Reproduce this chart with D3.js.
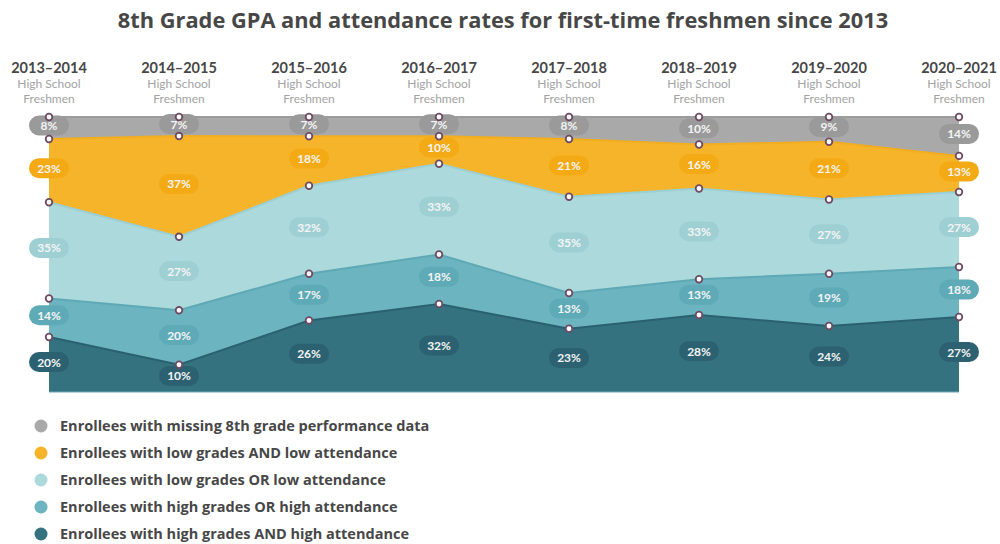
<!DOCTYPE html>
<html>
<head>
<meta charset="utf-8">
<script src="https://cdn.jsdelivr.net/npm/d3@7"></script>
<style>
  body { margin: 0; background: #fff; }
  svg text { font-family: Lato, "Open Sans", sans-serif; }
  svg text.wide { font-family: "Open Sans", Lato, sans-serif; }
</style>
</head>
<body>
<script>
// data (percent of first-time freshmen)
const years = ["2013–2014", "2014–2015", "2015–2016", "2016–2017", "2017–2018", "2018–2019", "2019–2020", "2020–2021"];
const missingData = [8, 7, 7, 7, 8, 10, 9, 14];
const lowAnd = [23, 37, 18, 10, 21, 16, 21, 13];
const lowOr = [35, 27, 32, 33, 35, 33, 27, 27];
const highOr = [14, 20, 17, 18, 13, 13, 19, 18];
const highAnd = [20, 10, 26, 32, 23, 28, 24, 27];

// bottom to top
const seriesKeys = ["highAnd", "highOr", "lowOr", "lowAnd", "missing"];
const seriesValues = { highAnd: highAnd, highOr: highOr, lowOr: lowOr, lowAnd: lowAnd, missing: missingData };
const legendLabels = {
  missing: "Enrollees with missing 8th grade performance data",
  lowAnd: "Enrollees with low grades AND low attendance",
  lowOr: "Enrollees with low grades OR low attendance",
  highOr: "Enrollees with high grades OR high attendance",
  highAnd: "Enrollees with high grades AND high attendance"
};
const legendOrder = ["missing", "lowAnd", "lowOr", "highOr", "highAnd"];

const fill = { missing: "#a9a9a9", lowAnd: "#f6b42a", lowOr: "#acd9db", highOr: "#6cb4bf", highAnd: "#347280" };
const pill = { missing: "#9a9a9a", lowAnd: "#f3aa14", lowOr: "#9ed0d3", highOr: "#5eaab6", highAnd: "#2b6170" };
const edge = { missing: "#9c9c9c", lowAnd: "#f2ad20", lowOr: "#9ccfd3", highOr: "#5ea9b5", highAnd: "#2a6170" };

const width = 1000, height = 544;

const svg = d3.select("body").append("svg")
  .attr("width", width)
  .attr("height", height);

const table = years.map((y, i) => {
  const row = { year: y };
  seriesKeys.forEach(k => row[k] = seriesValues[k][i]);
  return row;
});

const stack = d3.stack()
  .keys(seriesKeys)
  .offset(d3.stackOffsetExpand);
const layers = stack(table);

const x = d3.scalePoint()
  .domain(years)
  .range([49, 959]);

const y = d3.scaleLinear()
  .domain([0, 1])
  .range([392, 117]);

// title
svg.append("text")
  .attr("class", "wide")
  .attr("x", 503)
  .attr("y", 28)
  .attr("text-anchor", "middle")
  .attr("font-size", 21.8)
  .attr("font-weight", 700)
  .attr("fill", "#474747")
  .text("8th Grade GPA and attendance rates for first-time freshmen since 2013");

// column headers
const head = svg.append("g").selectAll("g")
  .data(years)
  .join("g")
  .attr("transform", d => `translate(${x(d)},0)`);

head.append("text")
  .attr("y", 73)
  .attr("text-anchor", "middle")
  .attr("font-size", 14.5)
  .attr("font-weight", 700)
  .attr("fill", "#474747")
  .text(d => d);

head.append("text")
  .attr("y", 88)
  .attr("text-anchor", "middle")
  .attr("font-size", 12)
  .attr("fill", "#a3a3a3")
  .text("High School");

head.append("text")
  .attr("y", 103)
  .attr("text-anchor", "middle")
  .attr("font-size", 12)
  .attr("fill", "#a3a3a3")
  .text("Freshmen");

// areas
const area = d3.area()
  .x(d => x(d.data.year))
  .y0(d => y(d[0]))
  .y1(d => y(d[1]));

const topLine = d3.line()
  .x(d => x(d.data.year))
  .y(d => y(d[1]));

const g = svg.append("g");

g.selectAll(".layer")
  .data(layers)
  .join("path")
  .attr("class", "layer")
  .attr("fill", d => fill[d.key])
  .attr("d", area);

g.selectAll(".edge")
  .data(layers)
  .join("path")
  .attr("class", "edge")
  .attr("fill", "none")
  .attr("stroke", d => edge[d.key])
  .attr("stroke-width", 2)
  .attr("d", topLine);

// bottom rule
g.append("line")
  .attr("x1", x(years[0]))
  .attr("x2", x(years[years.length - 1]))
  .attr("y1", y(0))
  .attr("y2", y(0))
  .attr("stroke", "#6aaab8")
  .attr("stroke-width", 1);

// value pills
const labels = [];
layers.forEach(layer => {
  layer.forEach((d, i) => {
    labels.push({ key: layer.key, year: d.data.year, value: seriesValues[layer.key][i], mid: (d[0] + d[1]) / 2 });
  });
});

const pills = g.selectAll(".pill")
  .data(labels)
  .join("g")
  .attr("class", "pill")
  .attr("transform", d => `translate(${x(d.year)},${y(d.mid) - 2.5})`);

pills.append("rect")
  .attr("x", -20)
  .attr("y", -10)
  .attr("width", 40)
  .attr("height", 20)
  .attr("rx", 10)
  .attr("fill", d => pill[d.key]);

pills.append("text")
  .attr("y", 4.5)
  .attr("text-anchor", "middle")
  .attr("font-size", 12)
  .attr("font-weight", 700)
  .attr("fill", "#f4f4f4")
  .text(d => d.value + "%");

// boundary dots
const dots = [];
layers.forEach(layer => {
  layer.forEach(d => dots.push({ year: d.data.year, v: d[1] }));
});

g.selectAll(".dot")
  .data(dots)
  .join("circle")
  .attr("class", "dot")
  .attr("cx", d => x(d.year))
  .attr("cy", d => y(d.v))
  .attr("r", 3.3)
  .attr("fill", "#fff")
  .attr("stroke", "#6e4b62")
  .attr("stroke-width", 1.8);

// legend
const legend = svg.append("g").selectAll("g")
  .data(legendOrder)
  .join("g")
  .attr("transform", (d, i) => `translate(41,${426 + i * 27})`);

legend.append("circle")
  .attr("r", 6.5)
  .attr("fill", d => fill[d]);

legend.append("text")
  .attr("class", "wide")
  .attr("x", 19)
  .attr("y", 5)
  .attr("font-size", 14.5)
  .attr("font-weight", 700)
  .attr("fill", "#474747")
  .text(d => legendLabels[d]);
</script>
</body>
</html>
